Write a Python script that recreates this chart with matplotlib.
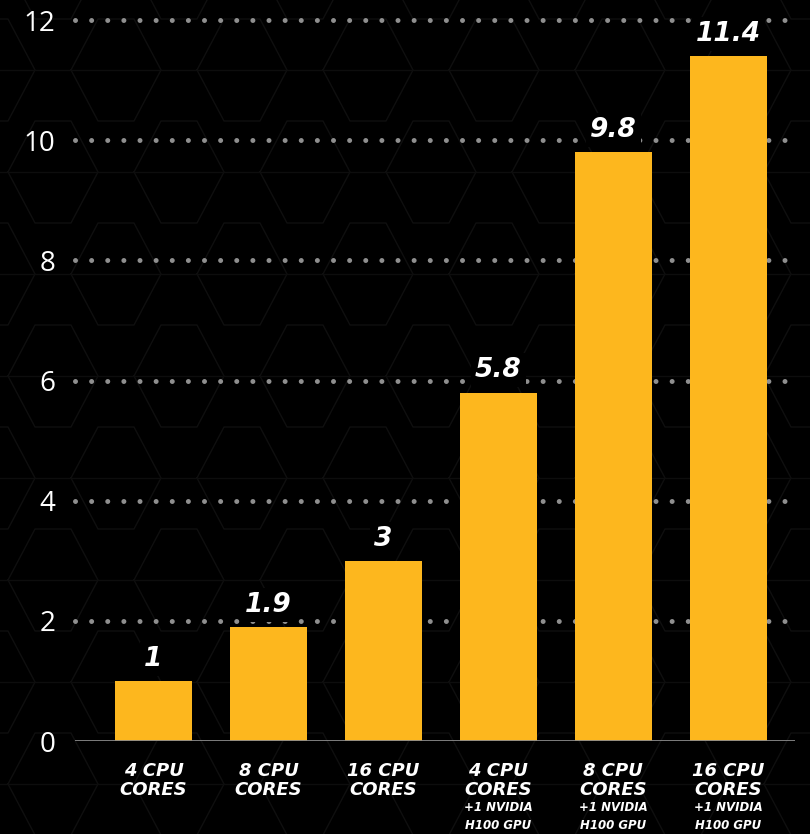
import numpy as np
import matplotlib.pyplot as plt

labels = ["4 CPU\nCORES", "8 CPU\nCORES", "16 CPU\nCORES",
          "4 CPU\nCORES", "8 CPU\nCORES", "16 CPU\nCORES"]
sublabels = ["", "", "", "+1 NVIDIA\nH100 GPU", "+1 NVIDIA\nH100 GPU", "+1 NVIDIA\nH100 GPU"]
values = [1, 1.9, 3, 5.8, 9.8, 11.4]
value_text = ["1", "1.9", "3", "5.8", "9.8", "11.4"]
yticks = [0, 2, 4, 6, 8, 10, 12]

bar_color = "#FDB71E"
plt.rcParams["lines.scale_dashes"] = False

fig = plt.figure(figsize=(8.1, 8.34), dpi=100, facecolor="black")

# faint hex lattice behind everything
bg = fig.add_axes([0, 0, 1, 1])
bg.set_xlim(0, 810)
bg.set_ylim(834, 0)
bg.axis("off")
bg.set_facecolor("black")
a, b, h = 45, 18, 102
for row in range(-1, 10):
    cy = 70 + row * h
    for col in range(-1, 12):
        cx = col * 2 * (a + b) + (row % 2) * (a + b) - 10
        xs = [cx - a, cx - b, cx + b, cx + a, cx + b, cx - b, cx - a]
        ys = [cy, cy - h / 2, cy - h / 2, cy, cy + h / 2, cy + h / 2, cy]
        bg.plot(xs, ys, color="#0f0f0f", lw=1, zorder=0)
    bg.plot([0, 810], [cy, cy], color="#0d0d0d", lw=1, zorder=0)

ax = fig.add_axes([75 / 810, 93 / 834, 720 / 810, 721 / 834])
ax.set_facecolor("none")

x = np.arange(len(values))
ax.bar(x, values, width=0.67, color=bar_color, zorder=3)

ax.set_xlim(-0.683, 5.58)
ax.set_ylim(0, 12)

for y in yticks[1:]:
    ax.plot([-0.683, 5.58], [y, y], color="#8f8f8f", lw=3.6,
            dashes=[0.01, 11.6], dash_capstyle="round", zorder=1,
            clip_on=False)
ax.axhline(0, color="#8a8a8a", lw=2, zorder=4)

for s in ax.spines.values():
    s.set_visible(False)
ax.set_xticks([])
ax.set_yticks(yticks)
ax.set_yticklabels([str(v) for v in yticks], color="white", fontsize=20,
                   family="Open Sans")
ax.tick_params(axis="y", length=0, pad=14)

for xi, v, t in zip(x, values, value_text):
    ax.annotate(t, (xi, v), xytext=(0, 16), textcoords="offset points",
                ha="center", va="center", color="white", fontsize=19,
                fontweight="bold", style="italic", zorder=5,
                bbox=dict(boxstyle="square,pad=0.15", fc="black", ec="none"))

for xi, lab, sub in zip(x, labels, sublabels):
    ax.annotate(lab, (xi, 0), xycoords=("data", "axes fraction"),
                xytext=(0, -15), textcoords="offset points",
                ha="center", va="top", color="white", fontsize=13,
                fontweight="bold", style="italic", linespacing=1.05)
    if sub:
        ax.annotate(sub, (xi, 0), xycoords=("data", "axes fraction"),
                    xytext=(0, -43), textcoords="offset points",
                    ha="center", va="top", color="white", fontsize=8.5,
                    fontweight="bold", style="italic", linespacing=1.55)

fig.savefig("out.png", dpi=100, facecolor="black")
